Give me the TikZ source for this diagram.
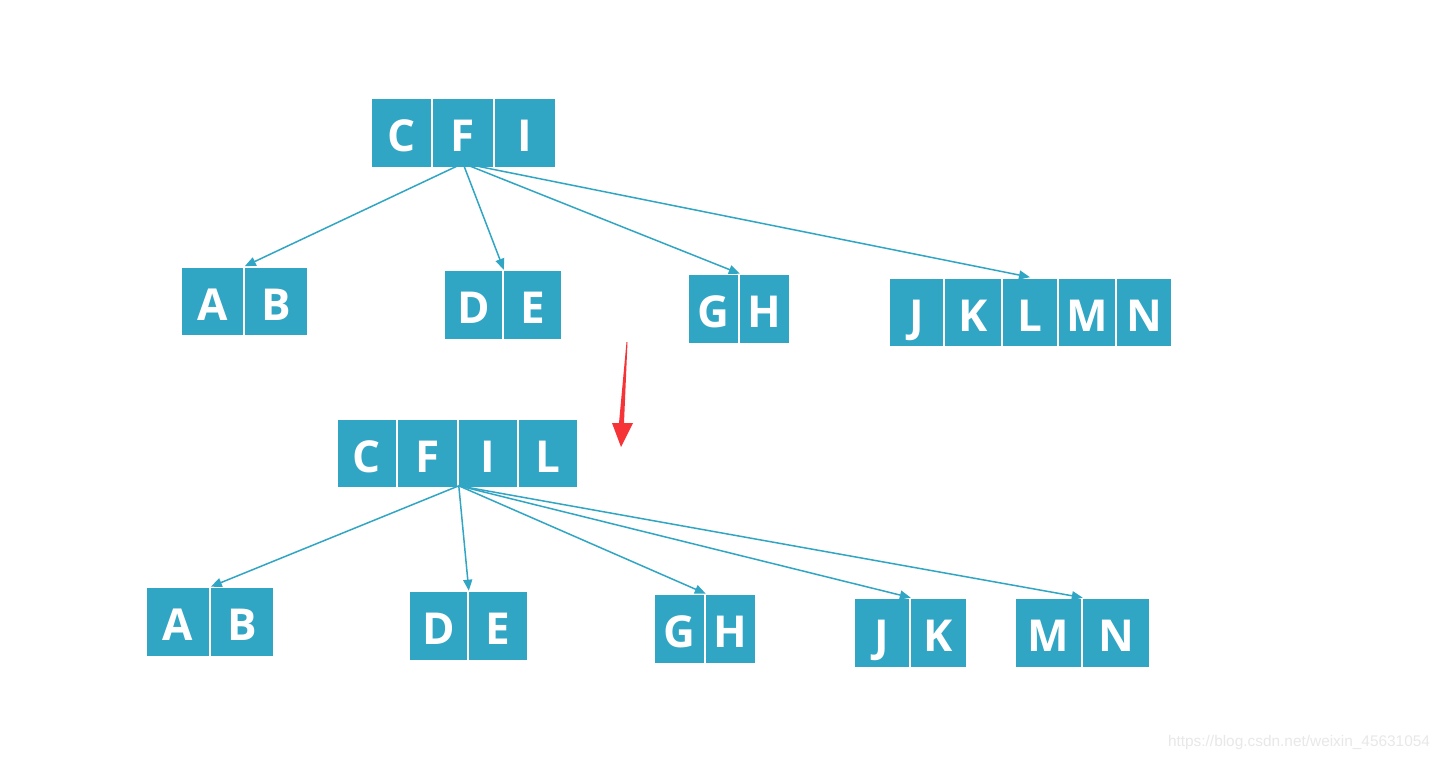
\documentclass[tikz,border=0pt]{standalone}
\usepackage{fontspec}
\setmainfont{Open Sans}
\newfontfamily\wmfont{Liberation Sans}
\usetikzlibrary{arrows.meta}
\definecolor{tealc}{RGB}{49,166,196}
\definecolor{redarr}{RGB}{246,52,56}
\definecolor{wmgray}{RGB}{232,232,232}
\begin{document}
\begin{tikzpicture}[x=1pt,y=-1pt,
  cell/.style={fill=tealc, draw=white, line width=1.6pt, inner sep=0pt,
    minimum height=69pt, text height=37pt, text depth=0pt, text=white,
    font=\fontsize{44}{44}\selectfont\bfseries},
  link/.style={draw=tealc, line width=1.5pt, -{Triangle[length=11pt,width=9pt]}}]
\useasboundingbox[fill=white] (0,0) rectangle (1443,761);
% top tree
\node[cell, minimum width=61pt] (tC) at (401.5,133) {C};
\node[cell, minimum width=62pt] (tF) at (463,133) {F};
\node[cell, minimum width=62pt] (tI) at (525,133) {I};
\node[cell, minimum width=63pt] (tA) at (212.5,301.5) {A};
\node[cell, minimum width=64pt] (tB) at (276,301.5) {B};
\node[cell, minimum width=59pt] (tD) at (473.5,305) {D};
\node[cell, minimum width=59pt] (tE) at (532.5,305) {E};
\node[cell, minimum width=51pt] (tG) at (713.5,309) {G};
\node[cell, minimum width=51pt] (tH) at (764.5,309) {H};
\node[cell, minimum width=55pt] (tJ) at (916.5,312.5) {J};
\node[cell, minimum width=58pt] (tK) at (973,312.5) {K};
\node[cell, minimum width=56pt] (tL) at (1030,312.5) {L};
\node[cell, minimum width=58pt] (tM) at (1087,312.5) {M};
\node[cell, minimum width=56pt] (tN) at (1144,312.5) {N};
\coordinate (tApex) at ([yshift=5pt]tF.south);
\draw[link] (tApex) -- (tA.north east);
\draw[link] (tApex) -- (tD.north east);
\draw[link] (tApex) -- (tG.north east);
\draw[link] (tApex) -- (tL.north);
% red arrow
\fill[redarr] (626.5,342) -- (627.5,342) -- (624,423) -- (633,423) -- (621,447) -- (612,423) -- (619,423) -- cycle;
% bottom tree
\node[cell, minimum width=60pt] (bC) at (367,453.5) {C};
\node[cell, minimum width=61pt] (bF) at (427.5,453.5) {F};
\node[cell, minimum width=60pt] (bI) at (488,453.5) {I};
\node[cell, minimum width=60pt] (bL) at (548,453.5) {L};
\node[cell, minimum width=64pt] (bA) at (178,622) {A};
\node[cell, minimum width=64pt] (bB) at (242,622) {B};
\node[cell, minimum width=59pt] (bD) at (438.5,626) {D};
\node[cell, minimum width=60pt] (bE) at (498,626) {E};
\node[cell, minimum width=51pt] (bG) at (679.5,629) {G};
\node[cell, minimum width=51pt] (bH) at (730.5,629) {H};
\node[cell, minimum width=56pt] (bJ) at (882,633) {J};
\node[cell, minimum width=57pt] (bK) at (938.5,633) {K};
\node[cell, minimum width=67pt] (bM) at (1048.5,633) {M};
\node[cell, minimum width=68pt] (bN) at (1116,633) {N};
\coordinate (bApex) at ([yshift=3pt]bF.south east);
\draw[link] (bApex) -- (bA.north east);
\draw[link] (bApex) -- (bD.north east);
\draw[link] (bApex) -- (bG.north east);
\draw[link] (bApex) -- (bJ.north east);
\draw[link] (bApex) -- (bM.north east);
% watermark
\node[text=wmgray, font=\wmfont\fontsize{15.4}{15.4}\selectfont, inner sep=0pt] (wm) at (1299,743) {https://blog.csdn.net/weixin\_45631054};
\end{tikzpicture}
\end{document}
